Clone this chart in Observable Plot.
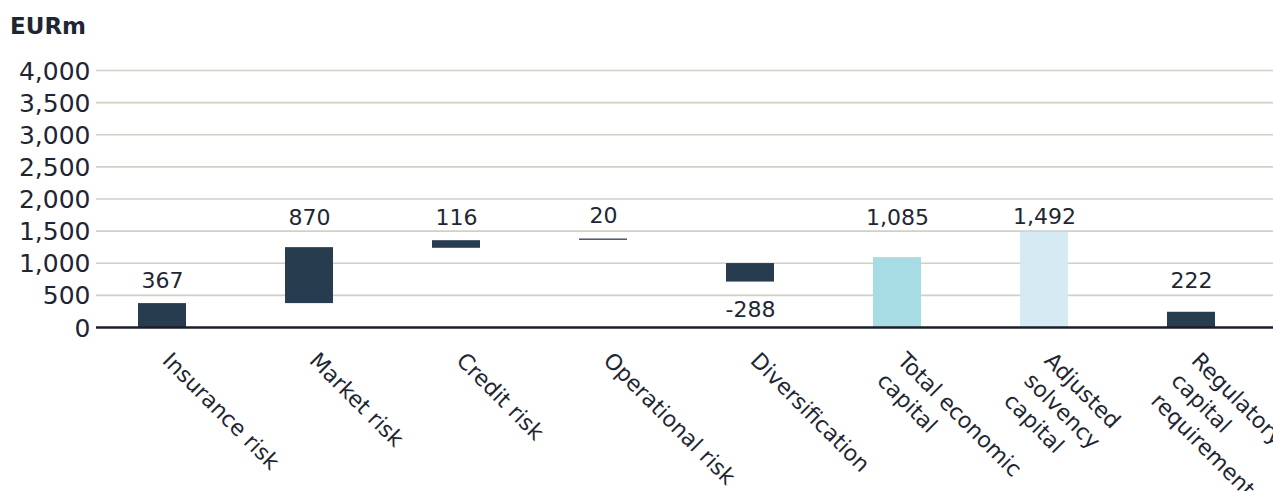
<!DOCTYPE html>
<html>
<head>
<meta charset="utf-8">
<script src="https://cdn.jsdelivr.net/npm/d3@7"></script>
<script src="https://cdn.jsdelivr.net/npm/@observablehq/plot@0.6"></script>
<style>
  html, body { margin: 0; padding: 0; background: #fff; overflow: hidden; }
  #title { font-family: "DejaVu Sans", sans-serif; font-weight: bold; font-size: 23px; line-height: 1; color: #1f2633; height: 45px; box-sizing: border-box; padding: 15px 0 0 10px; }
</style>
</head>
<body>
<div id="title">EURm</div>
<div id="chart"></div>
<script>
const categories = ["Insurance risk", "Market risk", "Credit risk", "Operational risk", "Diversification", "Total economic\ncapital", "Adjusted\nsolvency\ncapital", "Regulatory\ncapital\nrequirement"];
const values = [367, 870, 116, 20, -288, 1085, 1492, 222];
const barStart = [0, 372, 1233, 1357, 995, 0, 0, 0];
const barEnd = [372, 1243, 1351, 1377, 707, 1088, 1482, 237];
const labelY = [610, 1600, 1600, 1630, 170, 1600, 1615, 620];
const colors = ["#283c50", "#283c50", "#283c50", "#283c50", "#283c50", "#a8dce5", "#d5eaf2", "#283c50"];
const yTicks = [0, 500, 1000, 1500, 2000, 2500, 3000, 3500, 4000];

const rows = categories.map((c, i) => ({cat: c, value: values[i], y1: barStart[i], y2: barEnd[i], ly: labelY[i], color: colors[i]}));
const fmt = v => v.toLocaleString("en-US");

const plot = Plot.plot({
  width: 1273,
  height: 446,
  marginLeft: 96,
  marginRight: 0,
  marginTop: 25,
  marginBottom: 164,
  style: {fontFamily: "DejaVu Sans, sans-serif", color: "#1f2633", background: "#fff", overflow: "visible"},
  x: {domain: categories, paddingInner: 0.6735, paddingOuter: 0.34, align: 0.42, axis: null},
  y: {domain: [0, 4000], axis: null},
  marks: [
    Plot.ruleY(yTicks.filter(t => t > 0), {stroke: "#cfd0c6", strokeWidth: 1.6}),
    Plot.text(yTicks, {y: d => d, text: fmt, frameAnchor: "left", textAnchor: "end", dx: -6, dy: 1, fontSize: 25, fill: "#1f2633"}),
    Plot.barY(rows, {x: "cat", y1: "y1", y2: "y2", fill: "color"}),
    Plot.ruleY([0], {stroke: "#1a1e2a", strokeWidth: 2.5}),
    Plot.text(rows, {x: "cat", y: "ly", text: d => fmt(d.value), lineAnchor: "bottom", fontSize: 22, fill: "#1f2633"}),
    Plot.text(rows, {x: "cat", y: 0, text: "cat", rotate: 45, textAnchor: "start", lineAnchor: "top", dx: 13, dy: 20, fontSize: 22, lineHeight: 1.3, fill: "#1f2633"})
  ]
});
document.getElementById("chart").appendChild(plot);
</script>
</body>
</html>
